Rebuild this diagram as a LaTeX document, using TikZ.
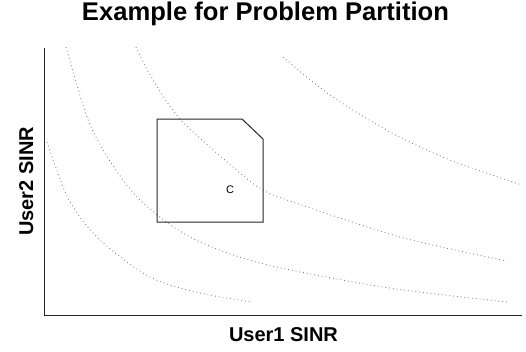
\documentclass[tikz,border=0pt]{standalone}
\usepackage{fontspec}
\setmainfont{Liberation Sans}
\usepackage{tikz}
\usetikzlibrary{calc}
\usetikzlibrary{positioning}

\begin{document}
\begin{tikzpicture}[x=1pt,y=-1pt,
                    axis line/.style={line width=1pt,black!85},
                    level curve/.style={gray,line width=0.9pt,dash pattern=on 0.8pt off 3pt},
                    region box/.style={line width=1pt,black!85},
                    axis label/.style={font=\fontsize{20}{24}\selectfont\bfseries,anchor=base}]
\useasboundingbox (0,0) rectangle (526,351);

\node[font=\fontsize{25.6}{30}\selectfont\bfseries,anchor=base] (Title) at (265.5,20.5) {Example for Problem Partition};

% axes
\coordinate (YaxisTop) at (44,48);
\coordinate (Origin) at (44,315);
\coordinate (XaxisRight) at (522,315);
\draw[axis line] (YaxisTop)--(Origin)--(XaxisRight);

\node[axis label] (XLabel) at (283.5,341.5) {User1 SINR};
\node[axis label,rotate=90] (YLabel) at (33,181.5) {User2 SINR};

% level curves
\draw[level curve] plot[smooth] coordinates {(47,142) (69,200) (100,240) (150,277) (200,293) (252,302)};
\draw[level curve] plot[smooth] coordinates {(66,47) (87,117) (108,158) (140,200) (190,237) (260,263) (383,287) (507,302)};
\draw[level curve] plot[smooth] coordinates {(136,47) (149,73) (180,119) (240,173) (263,190) (287,200) (400,237) (507,261)};
\draw[level curve] plot[smooth] coordinates {(283,57) (330,95) (390,132) (450,160) (522,185)};

% region C
\draw[region box] (157,119)--(242,119)--(263,139)--(263,222)--(157,222)--cycle;
\node[font=\fontsize{11}{13}\selectfont] (CLabel) at (230,190) {C};

\end{tikzpicture}
\end{document}
